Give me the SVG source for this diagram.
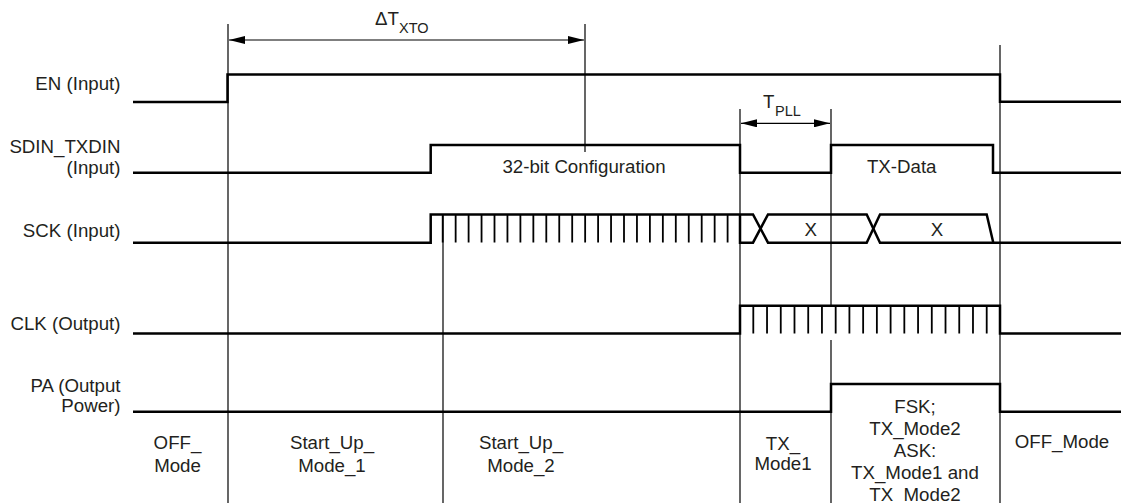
<svg xmlns="http://www.w3.org/2000/svg" width="1121" height="503" viewBox="0 0 1121 503">
<style>
.sig{fill:none;stroke:#000;stroke-width:2.5;stroke-linejoin:miter}
.tick{fill:none;stroke:#000;stroke-width:1.8}
.thin{fill:none;stroke:#000;stroke-width:1.2}
text{font-family:"Liberation Sans",Arial,sans-serif;font-size:18.7px;fill:#231f20}
.r{text-anchor:end}
.m{text-anchor:middle}
.sub{font-size:14.5px}
</style>
<defs>
<marker id="ah" viewBox="0 0 16 8" refX="16" refY="4" markerWidth="16" markerHeight="8" markerUnits="userSpaceOnUse" orient="auto-start-reverse">
<path d="M0,0 L16,4 L0,8 Z" fill="#000"/>
</marker>
</defs>
<rect width="1121" height="503" fill="#fff"/>

<g id="connectors">
<path class="thin" d="M228,24 V503"/>
<path class="thin" d="M585,24 V152"/>
<path class="thin" d="M443,214 V503"/>
<path class="thin" d="M740,109 V503"/>
<path class="thin" d="M831,109 V306 M831,340 V503"/>
<path class="thin" d="M1000,45 V503"/>
<line class="thin" x1="229" y1="40" x2="584" y2="40" marker-start="url(#ah)" marker-end="url(#ah)"/>
<line class="thin" x1="741" y1="123.3" x2="830" y2="123.3" marker-start="url(#ah)" marker-end="url(#ah)"/>
<text x="375" y="25">ΔT<tspan class="sub" x="399" y="32.5">XTO</tspan></text>
<text x="763" y="108">T<tspan class="sub" x="775" y="116">PLL</tspan></text>
</g>

<g id="en">
<text class="r" x="120.5" y="90">EN (Input)</text>
<path class="sig" d="M133,102 H227.5 V74.5 H1000 V101.8 H1121"/>
</g>

<g id="sdin">
<text class="r" x="120.5" y="153.3">SDIN_TXDIN</text>
<text class="r" x="120.5" y="174">(Input)</text>
<path class="sig" d="M133,172.7 H430.7 V145 H740 V172.7 H831 V145 H993 V172.7 H1121"/>
<text class="m" x="584" y="172.5">32-bit Configuration</text>
<text class="m" x="901.7" y="172.5">TX-Data</text>
</g>

<g id="sck">
<text class="r" x="120.5" y="237.3">SCK (Input)</text>
<path class="sig" d="M133,242.7 H430.7 V214.5 H753 L768,242.7 H866.7 L880,214.5 H986.7 L993.3,242.7 H1121"/>
<path class="sig" d="M740,214.5 V242.7 H753 L768,214.5 H866.7 L880,242.7 H993.3"/>
<path class="tick" d="M442.7,214.5V242.5 M455.65,214.5V242.5 M468.6,214.5V242.5 M481.55,214.5V242.5 M494.5,214.5V242.5 M507.45,214.5V242.5 M520.4,214.5V242.5 M533.35,214.5V242.5 M546.3,214.5V242.5 M559.25,214.5V242.5 M572.2,214.5V242.5 M585.15,214.5V242.5 M598.1,214.5V242.5 M611.05,214.5V242.5 M624,214.5V242.5 M636.95,214.5V242.5 M649.9,214.5V242.5 M662.85,214.5V242.5 M675.8,214.5V242.5 M688.75,214.5V242.5 M701.7,214.5V242.5 M714.65,214.5V242.5 M727.6,214.5V242.5"/>
<text class="m" x="810.8" y="236">X</text>
<text class="m" x="937" y="236">X</text>
</g>

<g id="clk">
<text class="r" x="120.5" y="330">CLK (Output)</text>
<path class="sig" d="M133,333.5 H740 V305.8 H1000 V333.5 H1121"/>
<path class="tick" d="M753.3,305.8V333.5 M767.03,305.8V333.5 M780.76,305.8V333.5 M794.49,305.8V333.5 M808.22,305.8V333.5 M821.95,305.8V333.5 M835.68,305.8V333.5 M849.41,305.8V333.5 M863.14,305.8V333.5 M876.87,305.8V333.5 M890.6,305.8V333.5 M904.33,305.8V333.5 M918.06,305.8V333.5 M931.79,305.8V333.5 M945.52,305.8V333.5 M959.25,305.8V333.5 M972.98,305.8V333.5 M986.71,305.8V333.5"/>
</g>

<g id="pa">
<text class="r" x="120.5" y="391.7">PA (Output</text>
<text class="r" x="120.5" y="411.7">Power)</text>
<path class="sig" d="M133,411.7 H831 V384 H1000 V411.7 H1121"/>
</g>

<g id="modes">
<text class="m" x="177.5" y="448.5">OFF_</text>
<text class="m" x="177.5" y="471.5">Mode</text>
<text class="m" x="332" y="448.5">Start_Up_</text>
<text class="m" x="332" y="471.5">Mode_1</text>
<text class="m" x="521" y="448.5">Start_Up_</text>
<text class="m" x="521" y="471.5">Mode_2</text>
<text class="m" x="783" y="450">TX_</text>
<text class="m" x="783" y="470">Mode1</text>
<text class="m" x="915" y="413">FSK;</text>
<text class="m" x="915" y="435">TX_Mode2</text>
<text class="m" x="915" y="457">ASK:</text>
<text class="m" x="915" y="479">TX_Mode1 and</text>
<text class="m" x="915" y="500.5">TX_Mode2</text>
<text class="m" x="1062" y="447.5">OFF_Mode</text>
</g>
</svg>
